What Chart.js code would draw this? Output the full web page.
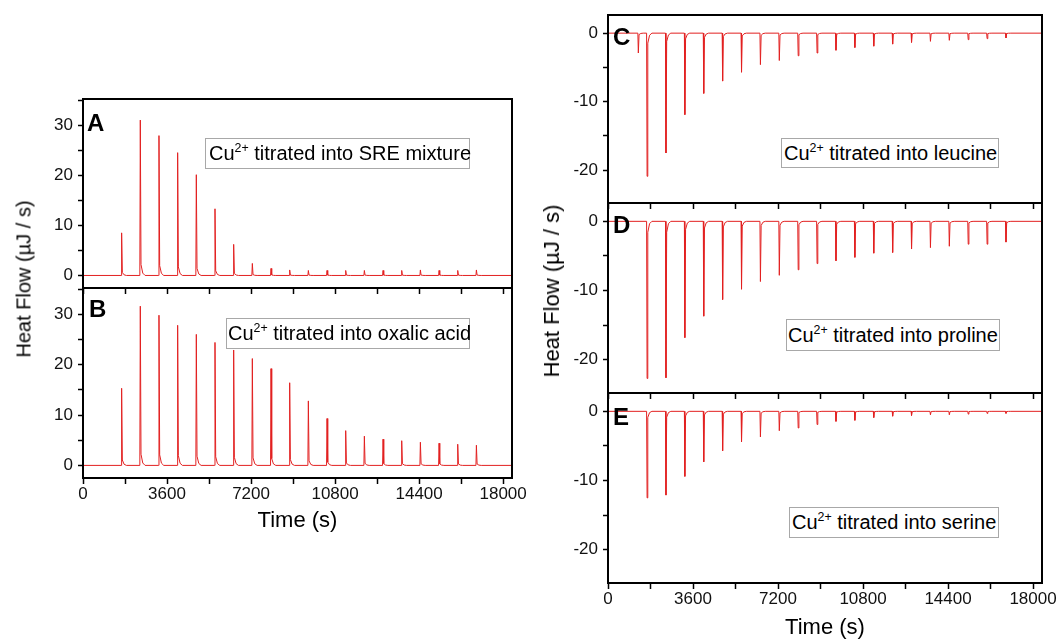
<!DOCTYPE html>
<html>
<head>
<meta charset="utf-8">
<script src="https://cdn.jsdelivr.net/npm/chart.js@4.4.1/dist/chart.umd.min.js"></script>
<style>
  html, body { margin: 0; padding: 0; background: #fff; overflow: hidden; }
  body { width: 1057px; height: 639px; position: relative; font-family: "Liberation Sans", Arial, sans-serif; color: #000; }
  canvas { position: absolute; }
  .letter { position: absolute; font-size: 24px; font-weight: bold; line-height: 24px; z-index: 3; }
  .note { position: absolute; font-size: 20px; border: 1px solid #a8a8a8; background: #fff; white-space: nowrap; box-sizing: border-box; z-index: 2; }
  .note sup { font-size: 0.62em; line-height: 0; }
  .ytitle { position: absolute; white-space: nowrap; transform: translate(-50%, -50%) rotate(-90deg); z-index: 2; }
</style>
</head>
<body>

<div class="ytitle" style="left:24px; top:279px; font-size:20px;">Heat Flow (µJ / s)</div>
<div class="ytitle" style="left:552px; top:291px; font-size:22px;">Heat Flow (µJ / s)</div>

<div class="letter" style="left:87px; top:111px;">A</div>
<div class="letter" style="left:89px; top:297px;">B</div>
<div class="letter" style="left:613px; top:25px;">C</div>
<div class="letter" style="left:613px; top:213px;">D</div>
<div class="letter" style="left:613px; top:405px;">E</div>

<div class="note" style="left:205px; top:138px; width:265px; height:31px; line-height:29px; padding-left:3px;">Cu<sup>2+</sup> titrated into SRE mixture</div>
<div class="note" style="left:226px; top:318px; width:244px; height:31px; line-height:29px; padding-left:1px;">Cu<sup>2+</sup> titrated into oxalic acid</div>
<div class="note" style="left:781px; top:138px; width:218px; height:30px; line-height:28px; padding-left:2px;">Cu<sup>2+</sup> titrated into leucine</div>
<div class="note" style="left:786px; top:319px; width:214px; height:32px; line-height:30px; padding-left:1px;">Cu<sup>2+</sup> titrated into proline</div>
<div class="note" style="left:789px; top:507px; width:210px; height:31px; line-height:29px; padding-left:2px;">Cu<sup>2+</sup> titrated into serine</div>

<script>
// injection times (s)
const injTimes = [1640, 2440, 3240, 4040, 4840, 5640, 6440, 7240, 8040, 8840,
                  9640, 10440, 11240, 12040, 12840, 13640, 14440, 15240, 16040, 16840];
// leucine run has a small pre-injection before the first one
const timesC = [1270, 1640, 2440, 3240, 4040, 4840, 5640, 6440, 7240, 8040, 8840,
                9640, 10440, 11240, 12040, 12840, 13640, 14440, 15240, 16040, 16840];

// peak heat flow per injection (µJ/s)
const heatA = [8.5, 31.0, 27.9, 24.5, 20.1, 13.3, 6.2, 2.4, 1.4, 1.1,
               1.0, 1.0, 1.0, 1.0, 1.0, 1.0, 1.1, 1.0, 1.0, 1.1];
const heatB = [15.3, 31.6, 29.8, 27.8, 26.0, 24.4, 22.9, 21.2, 19.2, 16.4,
               12.8, 9.3, 6.9, 5.8, 5.2, 4.9, 4.6, 4.4, 4.2, 4.0];
const heatC = [-2.9, -20.9, -17.5, -11.9, -8.8, -7.0, -5.7, -4.6, -4.0, -3.3, -2.9,
               -2.5, -2.1, -1.9, -1.6, -1.35, -1.2, -1.05, -0.95, -0.8, -0.7];
const heatD = [-22.7, -22.6, -16.8, -13.7, -11.3, -9.8, -8.7, -7.8, -7.0, -6.1,
               -5.7, -5.2, -4.6, -4.5, -4.0, -3.8, -3.6, -3.3, -3.3, -3.0];
const heatE = [-12.5, -12.1, -9.4, -7.3, -5.7, -4.4, -3.7, -2.8, -2.4, -1.9,
               -1.45, -1.3, -0.9, -0.7, -0.6, -0.5, -0.5, -0.4, -0.3, -0.3];

// ticks
const xTickMarks = [0, 1800, 3600, 5400, 7200, 9000, 10800, 12600, 14400, 16200, 18000];
const xTickLabels = [0, 3600, 7200, 10800, 14400, 18000];
const yMarksPos = [0, 5, 10, 15, 20, 25, 30, 35];
const yLabelsPos = [0, 10, 20, 30];
const yMarksNeg = [-20, -15, -10, -5, 0];
const yLabelsNeg = [-20, -10, 0];

const FONT = '"Liberation Sans", Arial, sans-serif';
const LINE_RED = '#e22020';

// each injection drawn as a sharp spike back to the baseline
function tracePoints(times, heat) {
  const pts = [{ x: 0, y: 0 }];
  times.forEach((t, i) => {
    const h = heat[i];
    pts.push({ x: t - 5, y: 0 }, { x: t + 15, y: h }, { x: t + 45, y: h * 0.07 },
             { x: t + 120, y: h * 0.015 }, { x: t + 220, y: 0 });
  });
  pts.push({ x: 18380, y: 0 });
  return pts;
}

const framePlugin = {
  id: 'frame',
  afterDatasetsDraw(chart) {
    const { ctx, chartArea: a } = chart;
    ctx.save();
    ctx.strokeStyle = '#000';
    ctx.lineWidth = 2;
    ctx.strokeRect(a.left, a.top, a.right - a.left, a.bottom - a.top);
    ctx.restore();
  }
};

const panels = [
  { times: injTimes, heat: heatA, left: 83, top: 99, w: 429, h: 189, yMin: -2.5, yMax: 35.2, marks: yMarksPos, labels: yLabelsPos, bottomAxis: false },
  { times: injTimes, heat: heatB, left: 83, top: 288, w: 429, h: 190, yMin: -2.5, yMax: 35.2, marks: yMarksPos, labels: yLabelsPos, bottomAxis: true, titlePad: 4 },
  { times: timesC, heat: heatC, left: 608, top: 15, w: 434, h: 188, yMin: -24.8, yMax: 2.65, marks: yMarksNeg, labels: yLabelsNeg, bottomAxis: false },
  { times: injTimes, heat: heatD, left: 608, top: 203, w: 434, h: 190, yMin: -24.8, yMax: 2.65, marks: yMarksNeg, labels: yLabelsNeg, bottomAxis: false },
  { times: injTimes, heat: heatE, left: 608, top: 393, w: 434, h: 190, yMin: -24.8, yMax: 2.65, marks: yMarksNeg, labels: yLabelsNeg, bottomAxis: true, titlePad: 2 }
];

function zeroPad(s) {
  s.paddingLeft = 0; s.paddingRight = 0; s.paddingTop = 0; s.paddingBottom = 0;
}

panels.forEach((p) => {
  const padL = 70, padT = 10, padR = 30;
  const bottom = p.bottomAxis ? 60 : 10;
  const cv = document.createElement('canvas');
  const cw = padL + p.w + padR, ch = padT + p.h + bottom;
  cv.width = cw; cv.height = ch;
  cv.style.width = cw + 'px'; cv.style.height = ch + 'px';
  cv.style.left = (p.left - padL) + 'px';
  cv.style.top = (p.top - padT) + 'px';
  document.body.appendChild(cv);

  new Chart(cv, {
    type: 'line',
    data: {
      datasets: [{
        data: tracePoints(p.times, p.heat),
        borderColor: LINE_RED,
        borderWidth: 1,
        pointRadius: 0,
        tension: 0,
        fill: false
      }]
    },
    options: {
      responsive: false,
      animation: false,
      layout: { padding: { top: padT, right: padR, left: 0, bottom: 0 } },
      plugins: { legend: { display: false }, tooltip: { enabled: false } },
      scales: {
        x: {
          type: 'linear',
          min: 0,
          max: 18380,
          afterBuildTicks: (s) => { s.ticks = xTickMarks.map((v) => ({ value: v })); },
          afterFit: (s) => { s.height = bottom; zeroPad(s); },
          ticks: {
            autoSkip: false,
            maxRotation: 0,
            padding: 0,
            color: '#111',
            font: { size: 17, family: FONT },
            callback: (v) => (p.bottomAxis && xTickLabels.includes(v) ? String(v) : '')
          },
          grid: { drawOnChartArea: false, tickLength: 6, tickWidth: 1.5, tickColor: '#000' },
          border: { display: false },
          title: {
            display: p.bottomAxis,
            text: 'Time (s)',
            color: '#000',
            font: { size: 22, family: FONT },
            padding: { top: 0, bottom: p.titlePad || 0 }
          }
        },
        y: {
          min: p.yMin,
          max: p.yMax,
          afterBuildTicks: (s) => { s.ticks = p.marks.map((v) => ({ value: v })); },
          afterFit: (s) => { s.width = padL; zeroPad(s); },
          ticks: {
            padding: 5,
            color: '#111',
            font: { size: 17, family: FONT },
            callback: (v) => (p.labels.includes(v) ? String(v) : '')
          },
          grid: { drawOnChartArea: false, tickLength: 5, tickWidth: 1.5, tickColor: '#000' },
          border: { display: false }
        }
      }
    },
    plugins: [framePlugin]
  });
});
</script>
</body>
</html>
